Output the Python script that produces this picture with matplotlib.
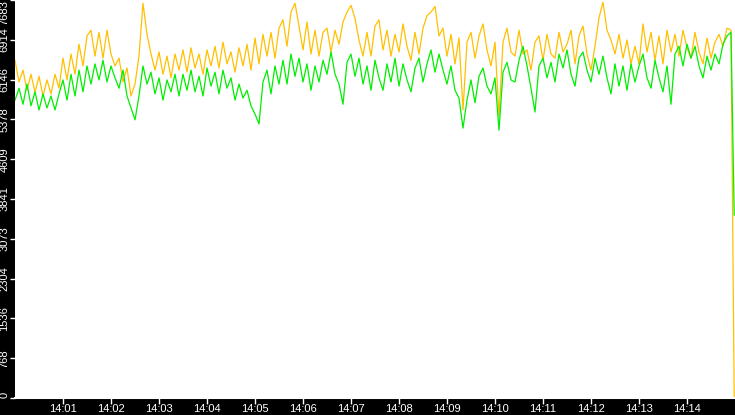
import matplotlib
matplotlib.use("Agg")
import matplotlib.pyplot as plt
import matplotlib.dates as mdates
import numpy as np
import pandas as pd

# Samples every 5 seconds, 14:00:00 .. 14:14:55, then one last reading at 14:14:59
start_time = "2024-01-01 14:00:00"
end_time = "2024-01-01 14:14:59"

yellow_values = [
    6520, 6100, 6330, 5940, 6250, 5900, 6210, 5830, 6140, 5870,
    6250, 5980, 6560, 6140, 6640, 6250, 6830, 6410, 6990, 7100,
    6600, 7060, 6560, 7100, 6640, 6410, 6560, 6100, 6370, 5830,
    6060, 6600, 7620, 7020, 6640, 6330, 6680, 6250, 6600, 6180,
    6640, 6330, 6720, 6290, 6760, 6370, 6640, 6250, 6720, 6410,
    6790, 6370, 6870, 6450, 6680, 6290, 6760, 6410, 6830, 6330,
    6950, 6450, 7020, 6600, 7060, 6560, 7140, 7300, 6790, 7450,
    7620, 7180, 6720, 7260, 6640, 7100, 6600, 7060, 7140, 6680,
    7100, 6830, 7260, 7450, 7580, 7330, 6910, 6600, 7060, 6600,
    7180, 7300, 6720, 7100, 6600, 7020, 6680, 7220, 6790, 6520,
    7060, 6640, 7140, 7380, 7450, 7560, 6990, 7140, 6600, 7020,
    6450, 6950, 5560, 6870, 7060, 6560, 6990, 7220, 6720, 6410,
    6870, 5440, 6870, 7140, 6680, 6600, 7100, 6640, 6720, 6330,
    6870, 6990, 6520, 7020, 6640, 6560, 7060, 6680, 6830, 7100,
    6450, 6990, 7180, 6640, 6330, 6790, 7340, 7640, 7100, 6910,
    6640, 7020, 6560, 6910, 6450, 6790, 6450, 7220, 6680, 7060,
    6520, 6990, 6450, 7100, 6680, 7020, 6600, 7100, 6760, 6560,
    7060, 6680, 6450, 6950, 6560, 6870, 7020, 6790, 7140, 7100,
]
yellow_last = 0

green_values = [
    5750, 5980, 5670, 6060, 5640, 5910, 5560, 5870, 5600, 5830,
    5560, 5870, 6140, 5750, 6250, 5830, 6330, 5910, 6410, 6060,
    6450, 6140, 6520, 6100, 6410, 6180, 5980, 6330, 5830, 5600,
    5370, 5830, 6410, 6060, 6290, 5870, 6180, 5750, 6140, 5910,
    6250, 5830, 6250, 5940, 6330, 5910, 6210, 5830, 6370, 6020,
    6290, 5870, 6330, 5980, 6180, 5750, 6060, 5790, 5940, 5640,
    5480, 5290, 6100, 6330, 5870, 6410, 6060, 6520, 6060, 6640,
    6210, 6560, 6100, 6450, 5940, 6410, 6100, 6520, 6250, 6680,
    6250, 6060, 5670, 6480, 6640, 6210, 6560, 6060, 6410, 5940,
    6520, 6180, 5940, 6450, 6100, 6560, 6020, 6450, 6140, 5910,
    6370, 6560, 6100, 6450, 6720, 6290, 6640, 6330, 6060, 6410,
    5940, 5790, 5210, 5750, 6140, 5700, 6210, 6370, 6020, 5870,
    6180, 5170, 6290, 6480, 6140, 6100, 6520, 6790, 6410, 5980,
    5520, 6410, 6560, 6180, 6480, 6100, 6640, 6370, 6720, 6250,
    6020, 6560, 6680, 6330, 6100, 6560, 6250, 6600, 6180, 5870,
    6450, 6020, 6410, 5940, 6450, 6100, 6410, 6640, 6180, 5980,
    6520, 6180, 5910, 6410, 5670, 6640, 6790, 6410, 6830, 6560,
    6790, 6410, 6180, 6600, 6330, 6640, 6450, 6830, 6990, 7060,
]
green_last = 3530

y_max = 7683

times = pd.date_range(start_time, periods=len(yellow_values), freq="5s")
times = list(times) + [pd.Timestamp(end_time)]
yellow = yellow_values + [yellow_last]
green = green_values + [green_last]

fig = plt.figure(figsize=(7.35, 4.15), dpi=100, facecolor="black")
ax = fig.add_axes([15 / 735, 17 / 415, 720 / 735, 398 / 415])
ax.set_facecolor("white")

ax.plot(times, yellow, color="#ffc000", linewidth=0.9)
ax.plot(times, green, color="#00ee00", linewidth=0.9)

ax.set_xlim(pd.Timestamp("2024-01-01 14:00:00"), pd.Timestamp("2024-01-01 14:15:00"))
ax.set_ylim(0, y_max)

# y ticks: 10 equal steps, labels truncated to integers
yticks = np.linspace(0, y_max, 11)
ax.set_yticks(yticks)
ax.set_yticklabels([str(int(v)) for v in yticks], rotation=90, va="center")
ax.get_yticklabels()[-1].set_va("top")
ax.get_yticklabels()[0].set_va("bottom")

# minute ticks 14:01 .. 14:14 only
ax.set_xticks(pd.date_range("2024-01-01 14:01", "2024-01-01 14:14", freq="1min"))
ax.xaxis.set_major_formatter(mdates.DateFormatter("%H:%M"))

ax.tick_params(colors="white", labelcolor="white", width=1)
ax.tick_params(axis="y", pad=0.5, length=3.5, labelsize=8)
ax.tick_params(axis="x", pad=0.5, length=4, labelsize=8)
for label in ax.get_xticklabels() + ax.get_yticklabels():
    label.set_fontfamily("Liberation Sans")

for side in ["top", "right", "left"]:
    ax.spines[side].set_visible(False)
ax.spines["bottom"].set_color("white")
ax.spines["bottom"].set_linewidth(1.5)

fig.savefig("out.png", dpi=100, facecolor="black")
